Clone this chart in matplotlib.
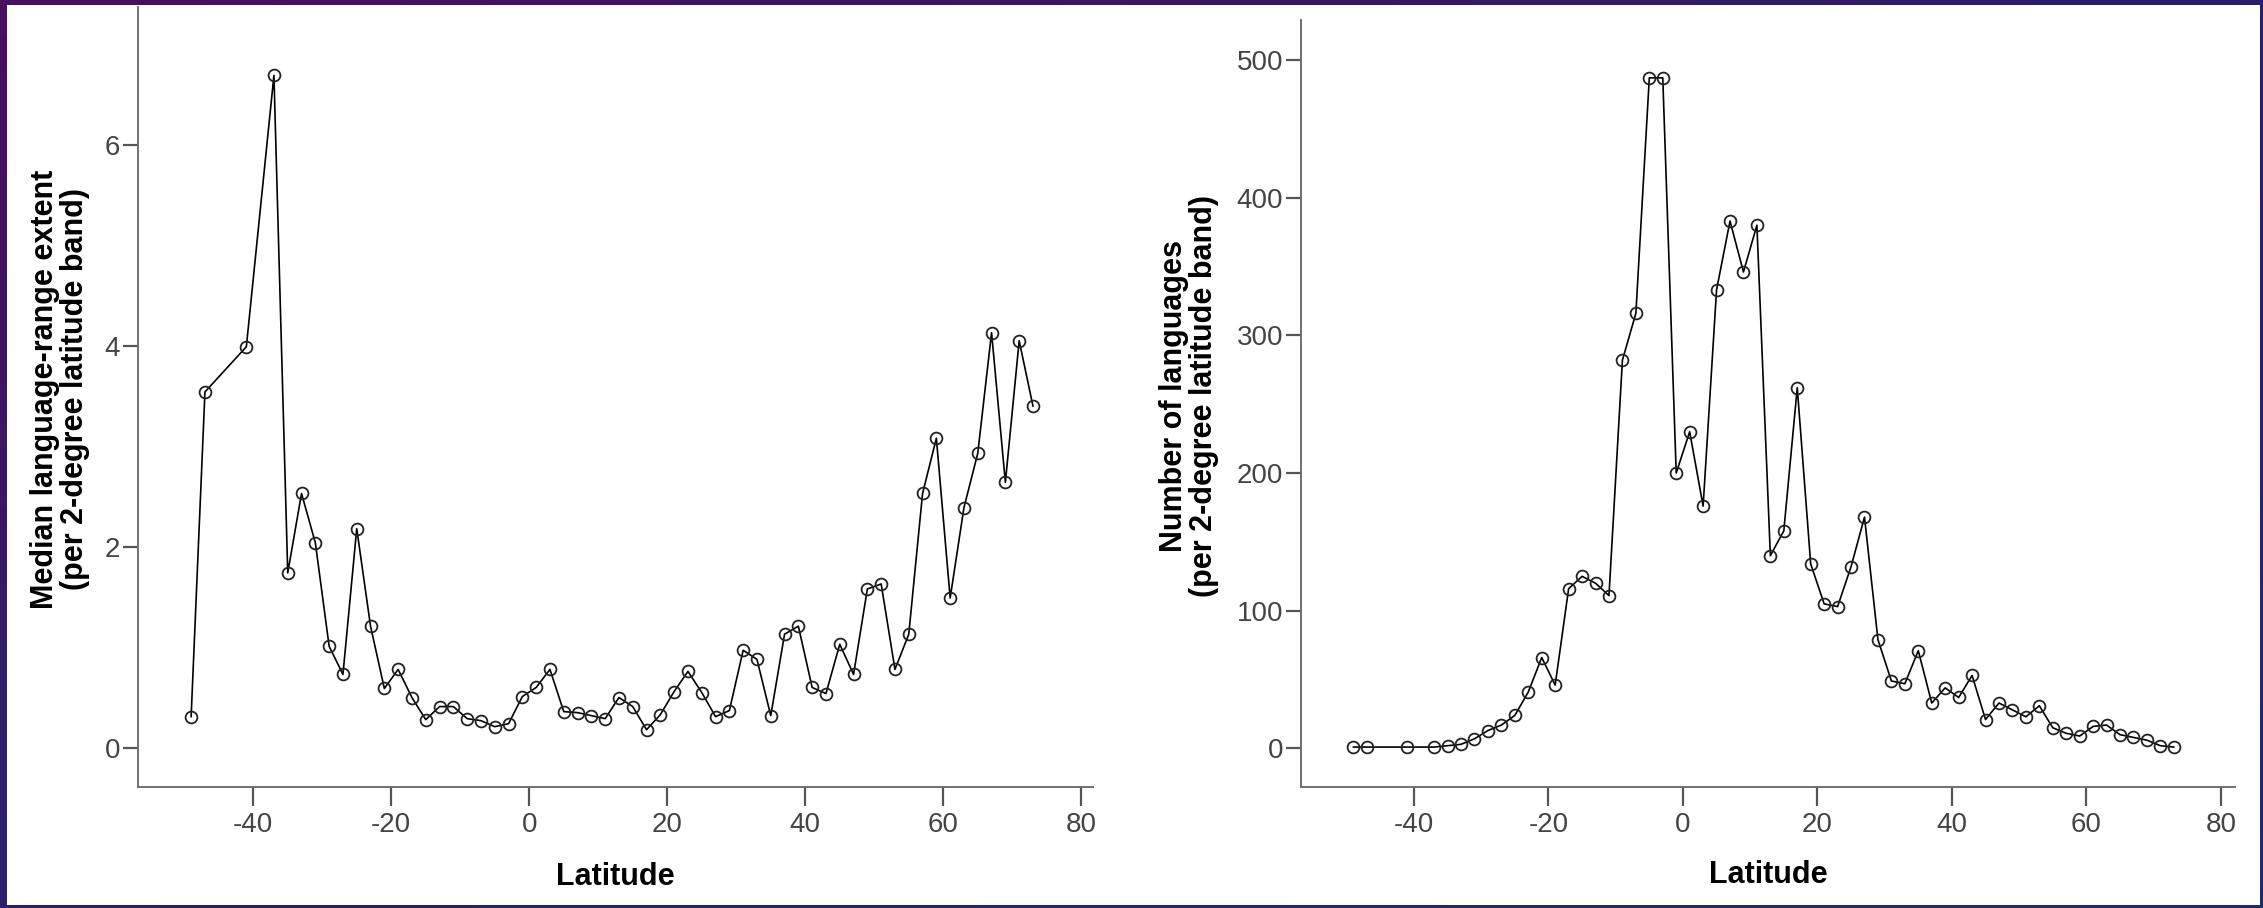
import numpy as np
import matplotlib
matplotlib.use("Agg")
import matplotlib.pyplot as plt
from matplotlib.colors import LinearSegmentedColormap
from matplotlib.patches import Rectangle

plt.rcParams['font.family'] = ['Liberation Sans', 'DejaVu Sans']
plt.rcParams['axes.unicode_minus'] = False

# Latitude band centres (2-degree bands)
latitude = [-49, -47, -41, -37, -35, -33, -31, -29, -27, -25, -23, -21, -19, -17,
            -15, -13, -11, -9, -7, -5, -3, -1, 1, 3, 5, 7, 9, 11, 13, 15, 17, 19,
            21, 23, 25, 27, 29, 31, 33, 35, 37, 39, 41, 43, 45, 47, 49, 51, 53,
            55, 57, 59, 61, 63, 65, 67, 69, 71, 73]

# Median language-range extent per band
median_extent = [0.31, 3.54, 3.99, 6.69, 1.74, 2.53, 2.04, 1.01, 0.73, 2.18, 1.21,
                 0.59, 0.78, 0.50, 0.28, 0.41, 0.41, 0.29, 0.27, 0.21, 0.24, 0.51,
                 0.60, 0.78, 0.36, 0.35, 0.32, 0.29, 0.50, 0.41, 0.18, 0.33, 0.56,
                 0.76, 0.55, 0.31, 0.37, 0.97, 0.88, 0.32, 1.13, 1.21, 0.60, 0.54,
                 1.03, 0.73, 1.58, 1.63, 0.78, 1.13, 2.53, 3.08, 1.49, 2.39, 2.93,
                 4.13, 2.64, 4.05, 3.40]

# Number of languages per band
n_languages = [1, 1, 1, 1, 2, 3, 7, 13, 17, 24, 41, 66, 46, 116, 125, 120, 111,
               282, 316, 487, 487, 200, 230, 176, 333, 383, 346, 380, 140, 158,
               262, 134, 105, 103, 132, 168, 79, 49, 47, 71, 33, 44, 37, 53, 21,
               33, 28, 23, 31, 15, 11, 9, 16, 17, 10, 8, 6, 2, 1]

W, H = 2263, 908
fig = plt.figure(figsize=(W / 100, H / 100), dpi=100)

# slide background (purple to blue) with white panel
bg = fig.add_axes([0, 0, 1, 1], zorder=-10)
cmap = LinearSegmentedColormap.from_list("slide", ["#4a0e5e", "#2a1f6a", "#1c2d72"])
grad = np.add.outer(np.linspace(0, 1, 50), np.linspace(0, 1, 100)) / 2
bg.imshow(grad, cmap=cmap, aspect='auto', extent=[0, 1, 0, 1], origin='upper')
bg.add_patch(Rectangle((7 / W, 1 - 905 / H), (2260 - 7) / W, (905 - 5) / H,
                       facecolor='white', edgecolor='none', transform=bg.transAxes))
bg.set_xlim(0, 1)
bg.set_ylim(0, 1)
bg.axis('off')

ax1 = fig.add_axes([138 / W, 1 - 787 / H, (1093 - 138) / W, (787 - 7) / H])
ax2 = fig.add_axes([1301 / W, 1 - 787 / H, (2235 - 1301) / W, (787 - 20) / H])

for ax, vals in [(ax1, median_extent), (ax2, n_languages)]:
    ax.plot(latitude, vals, color='black', lw=1.2, marker='o', ms=8.5,
            mfc='none', mec='#222222', mew=1.3)
    ax.set_facecolor('none')
    for s in ['top', 'right']:
        ax.spines[s].set_visible(False)
    for s in ['left', 'bottom']:
        ax.spines[s].set_color('#707070')
        ax.spines[s].set_linewidth(1.4)
    ax.set_xticks([-40, -20, 0, 20, 40, 60, 80])
    ax.tick_params(axis='x', direction='out', length=14, width=1.6, color='#555555',
                   labelsize=20, labelcolor='#444444', pad=4)
    ax.tick_params(axis='y', direction='out', length=11, width=1.6, color='#555555',
                   labelsize=20, labelcolor='#444444', pad=2)
    ax.set_xlabel('Latitude', fontsize=22, fontweight='bold', va='center')
    ax.xaxis.set_label_coords(0.5, -0.115)

ax1.set_xlim(-56.7, 81.7)
ax1.set_ylim(-0.39, 7.37)
ax1.set_yticks([0, 2, 4, 6])
ax1.set_ylabel('Median language-range extent\n(per 2-degree latitude band)',
               fontsize=22, fontweight='bold', linespacing=1.0, va='center')
ax1.yaxis.set_label_coords(-0.082, 0.51)

ax2.set_xlim(-56.8, 82.1)
ax2.set_ylim(-28, 529)
ax2.set_yticks([0, 100, 200, 300, 400, 500])
ax2.set_ylabel('Number of languages\n(per 2-degree latitude band)',
               fontsize=22, fontweight='bold', linespacing=1.0, va='center')
ax2.yaxis.set_label_coords(-0.12, 0.51)

fig.savefig('out.png', dpi=100)
